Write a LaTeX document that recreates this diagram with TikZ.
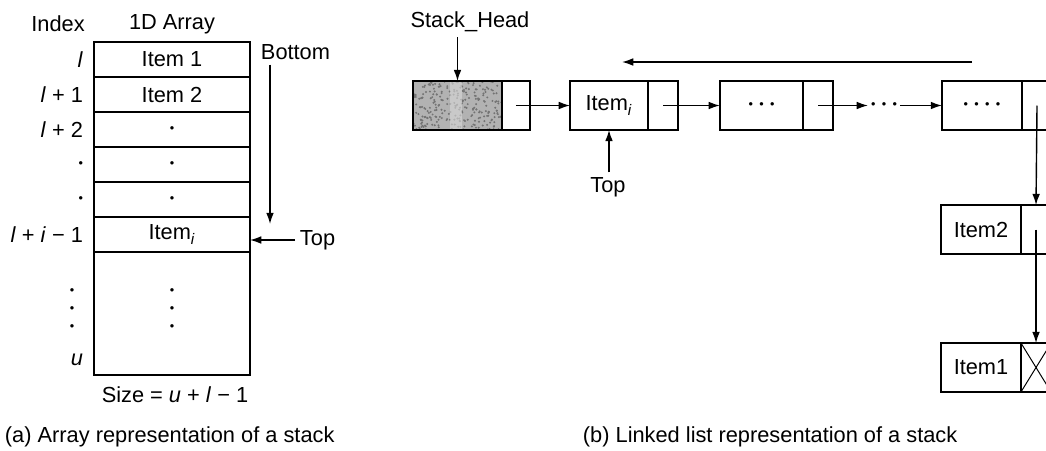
\documentclass[tikz,border=0pt]{standalone}
\usepackage{fontspec}
\setmainfont{Liberation Sans}
\usetikzlibrary{positioning,arrows.meta}

\tikzset{
  box/.style={draw, line width=1.2pt, inner sep=0pt, outer sep=0pt},
  cell/.style={box, minimum width=3.9cm, minimum height=0.875cm},
  datafield/.style={box, minimum width=2cm, minimum height=1.22cm},
  ptrfield/.style={box, minimum width=0.75cm, minimum height=1.22cm},
  arr/.style={-{Latex[length=8pt,width=5.5pt]}, line width=1pt}
}
\newcommand{\vd}{{\small\textbullet}}
\newcommand{\hd}{\vd\hspace{4.5pt}}

\begin{document}
\begin{tikzpicture}[x=0.025cm, y=-0.025cm, font=\fontsize{15.5}{18}\selectfont]
\useasboundingbox (0,0) rectangle (1046,450);
\clip (0,0) rectangle (1046,450);

% (a) the array
\node (idxhdr) at (58,24) {Index};
\node (arrhdr) at (172,24) {1D Array};
\foreach \i/\idx/\cont in {0/\textit{l}/Item 1, 1/{\textit{l} + 1}/Item 2,
    2/{\textit{l} + 2}/\vd, 3/\vd/\vd, 4/\vd/\vd,
    5/{\textit{l} + \textit{i} − 1}/Item\textsubscript{\textit{i}}}{%
  \node[cell] (r\i) at (172,59.5+35*\i) {\cont};
  \node[left] (ix\i) at (88,59.5+35*\i) {\idx};
}
\node[cell, minimum height=3.075cm] (r6) at (172,313.5) {};
\foreach \y in {292,310,328}{%
  \node (cd\y) at (172,\y) {\vd};
  \node (id\y) at (72,\y) {\vd};
}
\node[left] (ixu) at (88,360) {\textit{u}};
\node (size) at (175,395) {Size = \textit{u} + \textit{l} − 1};

\node[right] (bot) at (256,52) {Bottom};
\coordinate (botend) at (270,224);
\draw[arr] (bot.south -| botend) -- (botend);
\node[right] (topa) at (295,240) {Top};
\draw[arr] (topa.west) -- (r5.east |- topa.west);

% (b) the linked list
\node[datafield, minimum width=2.22cm, fill=black!30] (hd) at (457.5,105.5) {};
\begin{scope}
  \pgfmathsetseed{7}
  \clip (hd.south west) rectangle (hd.north east);
  \foreach \k in {1,...,260}{%
    \fill[black!55] (hd.center) ++(rand*44,rand*24) circle (1.1);
  }
  \fill[black!15, opacity=0.6] (hd.center) ++(-8,-24) rectangle ++(12,48);
\end{scope}
\node[box, minimum width=2.22cm, minimum height=1.22cm] (hdframe) at (hd) {};
\node[ptrfield, minimum width=0.7cm, right=0pt of hd] (hp) {};
\node (sh) at (470,22) {Stack\_Head};
\draw[arr] (sh.south -| hd.north) -- (hd.north);

\node[datafield, minimum width=1.95cm] (d1) at (609,105.5) {Item\textsubscript{\textit{i}}};
\node[ptrfield, right=0pt of d1] (p1) {};
\node[datafield, minimum width=2.08cm] (d2) at (761.5,105.5) {\hd\hd\vd};
\node[ptrfield, right=0pt of d2] (p2) {};
\node[inner sep=2pt] (gap) at (884,105.5) {\hd\hd\vd};
\node[datafield] (d3) at (982,105.5) {\hd\hd\hd\vd};
\node[ptrfield, right=0pt of d3] (p3) {};
\node[datafield] (d4) at (981,229.5) {Item2};
\node[ptrfield, right=0pt of d4] (p4) {};
\node[datafield] (d5) at (981,367.5) {Item1};
\node[ptrfield, right=0pt of d5] (p5) {};
\draw[line width=0.7pt] (p5.north west) -- (p5.south east)
  (p5.south west) -- (p5.north east);

\draw[arr] (hp.center) -- (d1.west);
\draw[arr] (p1.center) -- (d2.west);
\draw[arr] (p2.center) -- (gap.west);
\draw[arr] (gap.east) -- (d3.west);
\draw[arr] (p3.center) -- (p4.north);
\draw[arr] (p4.center) -- (p5.north);

\coordinate (back) at (972,62);
\coordinate (backend) at (622,62);
\draw[arr] (back) -- (backend);

\node (topb) at (608,187) {Top};
\draw[arr] (topb.north -| d1.south) -- (d1.south);

\node[right] (capa) at (0,437) {(a) Array representation of a stack};
\node[right] (capb) at (578,437) {(b) Linked list representation of a stack};
\end{tikzpicture}
\end{document}
